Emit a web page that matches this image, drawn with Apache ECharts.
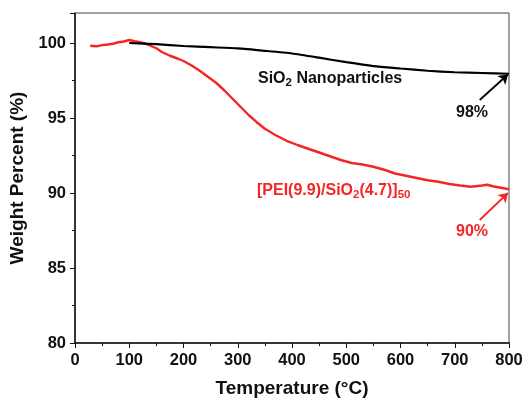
<!DOCTYPE html>
<html>
<head>
<meta charset="utf-8">
<script src="https://cdn.jsdelivr.net/npm/echarts@6/dist/echarts.min.js"></script>
<style>
    html, body { margin: 0; padding: 0; background: #fff; }
    #chart { width: 526px; height: 403px; }
</style>
</head>
<body>
<div id="chart"></div>
<script>
// TGA curves: [temperature (C), weight (%)]
let silicaData = [
    [100, 100.0], [150, 99.92], [200, 99.8], [250, 99.72], [300, 99.64],
    [350, 99.48], [400, 99.3], [450, 99.02], [500, 98.72], [550, 98.46],
    [600, 98.3], [650, 98.15], [700, 98.05], [750, 98.0], [800, 97.95]
];
let peiData = [
    [28, 99.82], [40, 99.78], [50, 99.86], [60, 99.9], [70, 99.95],
    [80, 100.05], [90, 100.1], [100, 100.2], [110, 100.12], [120, 100.05],
    [130, 99.95], [140, 99.8], [150, 99.65], [160, 99.4], [175, 99.15],
    [190, 98.95], [200, 98.8], [215, 98.5], [230, 98.15], [245, 97.75],
    [260, 97.35], [275, 96.85], [290, 96.3], [305, 95.75], [320, 95.2],
    [335, 94.72], [350, 94.28], [370, 93.85], [390, 93.48], [410, 93.2],
    [430, 92.95], [450, 92.7], [470, 92.45], [490, 92.2], [510, 92.0],
    [530, 91.9], [550, 91.75], [570, 91.55], [590, 91.3], [610, 91.15],
    [630, 91.0], [650, 90.85], [670, 90.75], [690, 90.6], [710, 90.5],
    [730, 90.42], [750, 90.5], [760, 90.55], [770, 90.45], [785, 90.35],
    [800, 90.25]
];
// arrows pointing at the end values
let silicaArrow = [[746, 96.2], [798, 97.9]];
let peiArrow = [[746, 88.2], [798, 90.0]];

const font = 'Liberation Sans, Arial, sans-serif';
const red = '#f52525';

let myChart = echarts.init(document.getElementById('chart'));
myChart.setOption({
    animation: false,
    backgroundColor: '#fff',
    grid: {
        left: 75,
        right: 17,
        top: 13,
        bottom: 60,
        show: true,
        borderColor: '#444',
        borderWidth: 1,
    },
    xAxis: {
        type: 'value',
        min: 0,
        max: 800,
        interval: 100,
        name: 'Temperature (\u00B0C)',
        nameLocation: 'middle',
        nameGap: 36,
        nameTextStyle: { fontFamily: font, fontWeight: 'bold', fontSize: 19, color: '#111' },
        axisLine: { lineStyle: { color: '#111', width: 1.5 } },
        axisTick: { length: 5, lineStyle: { color: '#111' } },
        minorTick: { show: true, splitNumber: 2, length: 3, lineStyle: { color: '#111' } },
        axisLabel: { fontFamily: font, fontWeight: 'bold', fontSize: 16.5, color: '#111', margin: 9 },
        splitLine: { show: false },
    },
    yAxis: {
        type: 'value',
        min: 80,
        max: 102,
        interval: 5,
        name: 'Weight Percent (%)',
        nameLocation: 'middle',
        nameGap: 45,
        nameTextStyle: { fontFamily: font, fontWeight: 'bold', fontSize: 19, color: '#111' },
        axisLine: { lineStyle: { color: '#111', width: 1.5 } },
        axisTick: { length: 5, lineStyle: { color: '#111' } },
        minorTick: { show: true, splitNumber: 2, length: 3, lineStyle: { color: '#111' } },
        axisLabel: {
            fontFamily: font, fontWeight: 'bold', fontSize: 16.5, color: '#111', margin: 9,
            showMaxLabel: false,
        },
        splitLine: { show: false },
    },
    series: [
        {
            name: 'SiO2 Nanoparticles',
            type: 'line',
            data: silicaData,
            showSymbol: false,
            smooth: 0.2,
            lineStyle: { color: '#000', width: 2.2 },
            z: 3,
            markLine: {
                silent: true,
                symbol: ['none', 'arrow'],
                symbolSize: 9,
                label: { show: false },
                lineStyle: { color: '#000', width: 1.8, type: 'solid' },
                data: [[{ coord: silicaArrow[0] }, { coord: silicaArrow[1] }]],
            },
        },
        {
            name: 'PEI',
            type: 'line',
            data: peiData,
            showSymbol: false,
            lineStyle: { color: red, width: 2.4 },
            z: 2,
            markLine: {
                silent: true,
                symbol: ['none', 'arrow'],
                symbolSize: 9,
                label: { show: false },
                lineStyle: { color: red, width: 1.8, type: 'solid' },
                data: [[{ coord: peiArrow[0] }, { coord: peiArrow[1] }]],
            },
        },
    ],
    graphic: [
        {
            type: 'text',
            left: 258,
            top: 71,
            style: {
                text: '{n|SiO}{s|2}{n| Nanoparticles}',
                rich: {
                    n: { fontFamily: font, fontWeight: 'bold', fontSize: 16, fill: '#111' },
                    s: { fontFamily: font, fontWeight: 'bold', fontSize: 11.5, fill: '#111', padding: [8, 0, 0, 0] },
                },
            },
        },
        {
            type: 'text',
            left: 456,
            top: 105,
            style: { text: '98%', fontFamily: font, fontWeight: 'bold', fontSize: 16, fill: '#111' },
        },
        {
            type: 'text',
            left: 257,
            top: 183,
            style: {
                text: '{n|[PEI(9.9)/SiO}{s|2}{n|(4.7)]}{s|50}',
                rich: {
                    n: { fontFamily: font, fontWeight: 'bold', fontSize: 16, fill: red },
                    s: { fontFamily: font, fontWeight: 'bold', fontSize: 11.5, fill: red, padding: [8, 0, 0, 0] },
                },
            },
        },
        {
            type: 'text',
            left: 456,
            top: 224,
            style: { text: '90%', fontFamily: font, fontWeight: 'bold', fontSize: 16, fill: red },
        },
    ],
});
</script>
</body>
</html>
